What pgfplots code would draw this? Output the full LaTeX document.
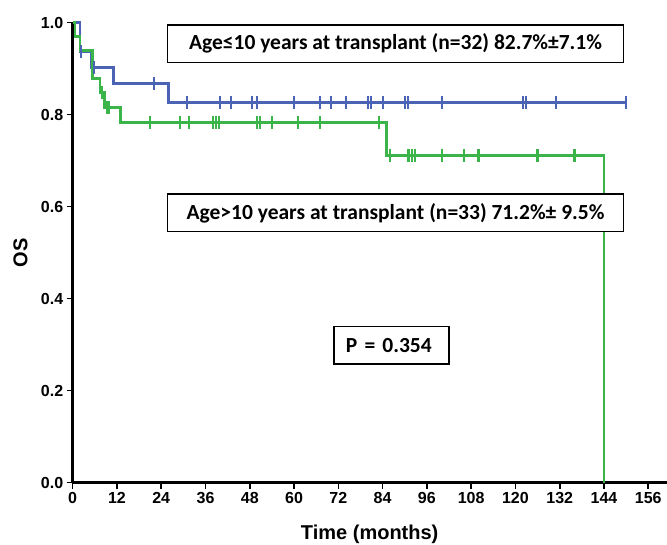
\documentclass[border=0pt]{standalone}
\usepackage{pgfplots}
\pgfplotsset{compat=1.18}
\usepackage{fontspec}
\setmainfont{Liberation Sans}
\newfontfamily\calibri{Carlito}

\definecolor{kmblue}{HTML}{4A63B5}
\definecolor{kmgreen}{HTML}{3BB54A}

\begin{document}
\begin{tikzpicture}
\begin{axis}[
    at={(0,0)}, anchor=south west,
    scale only axis,
    width=594pt, height=460pt,
    xmin=0, xmax=161,
    ymin=0, ymax=1,
    clip=false,
    axis lines=left,
    axis line style={line width=3pt, -},
    xtick={0,12,...,156},
    ytick={0,0.2,...,1.0},
    tick align=outside,
    major tick length=6pt,
    tick style={line width=1.6pt, black},
    ticklabel style={font=\fontsize{16}{19}\selectfont\bfseries},
    /pgf/number format/assume math mode=true,
    yticklabel style={/pgf/number format/.cd, fixed, fixed zerofill, precision=1},
    xlabel={Time (months)},
    ylabel={OS},
    x label style={at={(axis description cs:0.5,0)}, yshift=-52pt, anchor=center,
        font=\fontsize{20}{24}\selectfont\bfseries},
    y label style={at={(axis description cs:-0.088,0.5)}, anchor=center,
        font=\fontsize{20}{24}\selectfont\bfseries},
]

% Age <= 10 years (n=32)
\addplot[const plot, color=kmblue, line width=2.8pt] coordinates {
    (0,1.0) (2,0.9375) (5.1,0.903) (11,0.867) (26,0.827) (150,0.827)
};
\addplot[only marks, mark=|, mark size=6.5pt, color=kmblue, mark options={line width=2.2pt}] coordinates {
    (2.2,0.9375) (5.7,0.903) (22,0.867)
    (31,0.827) (40,0.827) (43,0.827) (48.5,0.827) (50,0.827) (60,0.827)
    (67,0.827) (70,0.827) (74,0.827) (80.1,0.827) (80.9,0.827) (84,0.827)
    (90,0.827) (90.8,0.827) (100,0.827) (122.1,0.827) (122.8,0.827)
    (131,0.827) (150,0.827)
};

% Age > 10 years (n=33)
\addplot[const plot, color=kmgreen, line width=2.8pt] coordinates {
    (0,1.0) (0.6,0.970) (2,0.939) (5.3,0.879) (7.4,0.848) (8.7,0.816)
    (13,0.783) (85,0.712) (144,0.712) (144,0)
};
\addplot[only marks, mark=|, mark size=6.5pt, color=kmgreen, mark options={line width=2.2pt}] coordinates {
    (8,0.848) (9.2,0.816) (9.9,0.816)
    (21,0.783) (29,0.783) (31.5,0.783) (38.1,0.783) (38.8,0.783) (39.6,0.783)
    (50,0.783) (50.8,0.783) (54,0.783) (61,0.783) (67,0.783) (83,0.783)
    (86,0.712) (91,0.712) (91.9,0.712) (92.8,0.712) (100,0.712) (106,0.712)
    (110,0.712) (126,0.712) (136,0.712)
};

\tikzset{kmbox/.style={draw=black, line width=1.5pt, fill=white,
    font=\calibri\fontsize{21.5}{24}\selectfont\bfseries, anchor=north west,
    inner xsep=12pt, minimum height=37.5pt}}
\node[kmbox, minimum width=456pt] at (axis cs:25.5,0.9965)
    {Age≤10 years at transplant (n=32) 82.7\%±7.1\%};
\node[kmbox, minimum width=456pt] at (axis cs:25.5,0.629)
    {Age>10 years at transplant (n=33) 71.2\%± 9.5\%};
\node[kmbox, minimum width=115pt, text width=91pt, align=left] at (axis cs:70.6,0.341)
    {P = 0.354};
\end{axis}
\pgfresetboundingbox
\path[use as bounding box] (-72.7pt,-62.3pt) rectangle (594.3pt,482.7pt);
\end{tikzpicture}
\end{document}
